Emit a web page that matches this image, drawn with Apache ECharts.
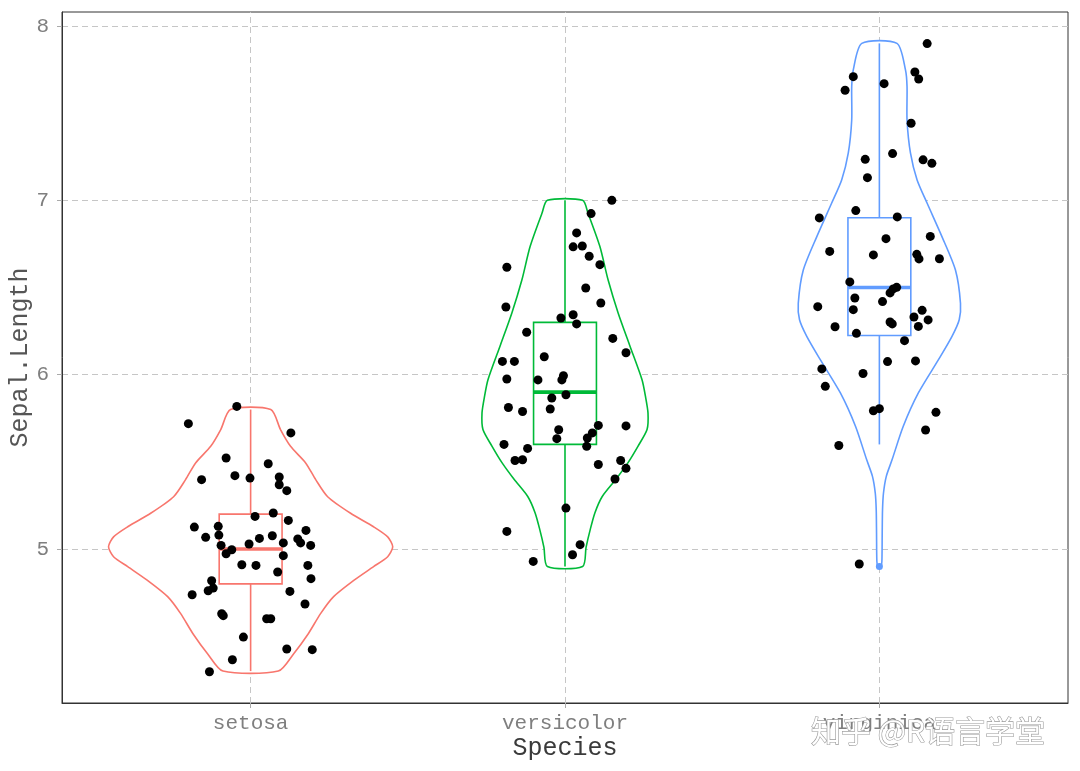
<!DOCTYPE html>
<html><head><meta charset="utf-8">
<script src="https://cdn.jsdelivr.net/npm/echarts@6/dist/echarts.min.js"></script>
<style>html,body{margin:0;padding:0;background:#fff}#c{width:1080px;height:771px}</style>
</head><body><div id="c"></div>
<script>
// ---------------- data ----------------
const categories = ['setosa', 'versicolor', 'virginica'];
const yTicks = [5, 6, 7, 8];

// boxplot statistics per species
const boxLower  = [4.3, 4.9, 5.6];
const boxQ1     = [4.8, 5.6, 6.225];
const boxMedian = [5.0, 5.9, 6.5];
const boxQ3     = [5.2, 6.3, 6.9];
const boxUpper  = [5.8, 7.0, 7.9];
const boxOutliers = [[], [], [4.9]];

// violin half-widths [value, halfWidth in category units]
const violinSetosa = [[4.3,0.088],[4.40,0.137],[4.516,0.184],[4.631,0.223],[4.727,0.264],[4.82,0.328],[4.899,0.391],[4.956,0.436],[5.013,0.452],[5.07,0.436],[5.128,0.391],[5.205,0.318],[5.30,0.245],[5.398,0.207],[5.494,0.175],[5.589,0.127],[5.685,0.095],[5.8,0.064]];
const violinVersicolor = [[4.9,0.056],[5.01,0.067],[5.11,0.080],[5.207,0.095],[5.30,0.118],[5.40,0.162],[5.494,0.200],[5.589,0.232],[5.685,0.261],[5.78,0.264],[5.875,0.256],[5.971,0.245],[6.162,0.207],[6.354,0.169],[6.544,0.137],[6.735,0.111],[6.927,0.073],[7.0,0.056]];
const violinVirginica = [[4.9,0.005],[4.93,0.008],[5.09,0.009],[5.224,0.010],[5.32,0.013],[5.417,0.022],[5.51,0.040],[5.704,0.076],[5.895,0.124],[6.086,0.188],[6.22,0.231],[6.315,0.254],[6.41,0.258],[6.60,0.242],[6.792,0.199],[6.983,0.152],[7.117,0.120],[7.27,0.099],[7.461,0.088],[7.652,0.088],[7.748,0.083],[7.9,0.056]];

// jittered points [offset from category, Sepal.Length]
const pointsSetosa = [[-0.044,5.818],[-0.198,5.719],[0.128,5.666],[-0.078,5.522],[0.056,5.489],[-0.156,5.398],[-0.050,5.421],[-0.002,5.407],[0.091,5.413],[0.091,5.369],[0.115,5.335],[0.014,5.187],[0.072,5.207],[0.120,5.164],[-0.179,5.126],[-0.103,5.130],[0.176,5.107],[-0.143,5.067],[-0.101,5.080],[0.028,5.061],[0.069,5.076],[0.150,5.058],[0.159,5.035],[0.191,5.021],[-0.094,5.021],[-0.005,5.029],[0.104,5.035],[-0.060,4.996],[-0.078,4.973],[0.104,4.962],[-0.028,4.910],[0.017,4.906],[0.182,4.906],[0.086,4.868],[0.192,4.830],[-0.124,4.818],[-0.119,4.776],[-0.135,4.761],[-0.186,4.738],[0.125,4.757],[0.173,4.685],[-0.092,4.629],[-0.087,4.618],[0.051,4.600],[0.064,4.600],[-0.023,4.495],[0.115,4.427],[0.196,4.423],[-0.058,4.365],[-0.131,4.296]];
const pointsVersicolor = [[0.149,7.000],[0.083,6.924],[0.037,6.813],[0.026,6.733],[0.055,6.738],[0.077,6.679],[0.111,6.631],[-0.185,6.616],[0.066,6.497],[0.114,6.411],[-0.188,6.388],[0.026,6.344],[-0.013,6.325],[0.037,6.291],[-0.122,6.243],[0.152,6.208],[0.194,6.126],[-0.066,6.103],[-0.199,6.076],[-0.161,6.076],[-0.005,5.994],[-0.010,5.970],[-0.185,5.975],[-0.086,5.970],[0.003,5.885],[-0.042,5.866],[-0.180,5.812],[-0.135,5.789],[-0.047,5.803],[0.106,5.709],[0.194,5.706],[-0.020,5.684],[0.087,5.666],[-0.026,5.633],[0.071,5.637],[0.069,5.589],[-0.194,5.600],[-0.119,5.577],[-0.159,5.508],[-0.135,5.512],[0.106,5.485],[0.177,5.508],[0.194,5.463],[0.159,5.402],[0.003,5.235],[-0.185,5.101],[0.048,5.025],[0.024,4.967],[-0.101,4.929]];
const pointsVirginica = [[0.152,7.899],[0.113,7.736],[0.125,7.696],[-0.083,7.709],[-0.109,7.631],[0.015,7.669],[0.101,7.442],[0.042,7.268],[-0.045,7.235],[0.139,7.232],[0.167,7.212],[-0.038,7.130],[-0.075,6.941],[-0.191,6.899],[0.057,6.905],[0.162,6.793],[0.021,6.780],[-0.158,6.707],[-0.019,6.687],[0.119,6.690],[0.126,6.664],[0.191,6.665],[-0.094,6.532],[0.055,6.501],[0.044,6.492],[0.034,6.469],[-0.078,6.440],[0.010,6.419],[-0.196,6.390],[-0.083,6.373],[0.136,6.369],[0.110,6.331],[0.155,6.314],[-0.141,6.275],[0.034,6.302],[0.041,6.291],[0.124,6.277],[-0.073,6.237],[0.080,6.195],[0.026,6.075],[0.115,6.079],[-0.183,6.033],[-0.052,6.007],[-0.172,5.933],[-0.019,5.793],[0.000,5.805],[0.180,5.784],[0.147,5.683],[-0.129,5.594],[-0.064,4.914]];

// ---------------- chart ----------------
const colors = ['#F8766D', '#00BA38', '#619CFF'];
const violins = [violinSetosa, violinVersicolor, violinVirginica];
const pointSets = [pointsSetosa, pointsVersicolor, pointsVirginica];
const monoFont = '"Courier New", "Liberation Mono", monospace';
const boxHalf = 0.1;

const chart = echarts.init(document.getElementById('c'), null, {renderer: 'canvas'});

const scatterData = [];
pointSets.forEach((pts, i) => pts.forEach(([dx, v]) => scatterData.push([i + 1 + dx, v])));

const option = {
  animation: false,
  backgroundColor: '#ffffff',
  grid: {left: 62, right: 12, top: 12, bottom: 68, show: true, borderColor: '#333333', borderWidth: 1, containLabel: false, outerBoundsMode: 'none'},
  xAxis: {
    type: 'value', min: 0.4, max: 3.6,
    name: 'Species', nameLocation: 'middle', nameGap: 33, nameMoveOverlap: false,
    nameTextStyle: {fontFamily: monoFont, fontSize: 25, color: '#3a3a3a'},
    axisLine: {show: true, lineStyle: {color: '#333333', width: 1}},
    axisTick: {show: true, customValues: [1, 2, 3], length: 5, lineStyle: {color: '#aaaaaa'}},
    axisLabel: {customValues: [1, 2, 3], formatter: v => categories[Math.round(v) - 1] || '', fontFamily: monoFont, fontSize: 21, color: '#7f7f7f', margin: 10},
    splitLine: {show: false}
  },
  yAxis: {
    type: 'value', min: 4.117, max: 8.08,
    name: 'Sepal.Length', nameLocation: 'middle', nameGap: 29, nameMoveOverlap: false,
    nameTextStyle: {fontFamily: monoFont, fontSize: 25, color: '#555555'},
    axisLine: {show: true, lineStyle: {color: '#333333', width: 1}},
    axisTick: {show: true, customValues: yTicks, length: 5, lineStyle: {color: '#aaaaaa'}},
    axisLabel: {customValues: yTicks, fontFamily: monoFont, fontSize: 21, color: '#7f7f7f', margin: 13},
    splitLine: {show: false}
  },
  series: [
    {
      type: 'line', data: [], z: 0, silent: true,
      markLine: {
        z: 0, silent: true, symbol: ['none', 'none'], label: {show: false}, animation: false,
        lineStyle: {color: '#c6c6c6', type: [6, 4], width: 1},
        emphasis: {disabled: true},
        data: categories.map((c, i) => ({xAxis: i + 1})).concat(yTicks.map(v => ({yAxis: v})))
      }
    },
    {
      type: 'custom', z: 1, silent: true,
      data: categories.map((c, i) => [i + 1, boxMedian[i]]),
      encode: {x: 0, y: 1},
      renderItem: (params, api) => {
        const i = params.dataIndex;
        const prof = violins[i];
        const cx = i + 1;
        const right = prof.map(([v, h]) => api.coord([cx + h, v]));
        const left = prof.slice().reverse().map(([v, h]) => api.coord([cx - h, v]));
        return {type: 'polygon', shape: {points: right.concat(left), smooth: 0.25},
                style: {fill: '#ffffff', stroke: colors[i], lineWidth: 1.6}};
      }
    },
    {
      type: 'custom', z: 2, silent: true,
      data: categories.map((c, i) => [i + 1, boxMedian[i]]),
      encode: {x: 0, y: 1},
      renderItem: (params, api) => {
        const i = params.dataIndex;
        const cx = i + 1;
        const c = colors[i];
        const p = (x, y) => api.coord([x, y]);
        const tl = p(cx - boxHalf, boxQ3[i]);
        const br = p(cx + boxHalf, boxQ1[i]);
        const children = [
          {type: 'line', shape: {x1: p(cx, boxQ3[i])[0], y1: p(cx, boxQ3[i])[1], x2: p(cx, boxUpper[i])[0], y2: p(cx, boxUpper[i])[1]}, style: {stroke: c, lineWidth: 1.6}},
          {type: 'line', shape: {x1: p(cx, boxQ1[i])[0], y1: p(cx, boxQ1[i])[1], x2: p(cx, boxLower[i])[0], y2: p(cx, boxLower[i])[1]}, style: {stroke: c, lineWidth: 1.6}},
          {type: 'rect', shape: {x: tl[0], y: tl[1], width: br[0] - tl[0], height: br[1] - tl[1]}, style: {fill: 'rgba(255,255,255,0)', stroke: c, lineWidth: 1.6}},
          {type: 'line', shape: {x1: p(cx - boxHalf, boxMedian[i])[0], y1: p(cx - boxHalf, boxMedian[i])[1], x2: p(cx + boxHalf, boxMedian[i])[0], y2: p(cx + boxHalf, boxMedian[i])[1]}, style: {stroke: c, lineWidth: 3.6}}
        ];
        boxOutliers[i].forEach(v => {
          const o = p(cx, v);
          children.push({type: 'circle', shape: {cx: o[0], cy: o[1], r: 3.5}, style: {fill: c}});
        });
        return {type: 'group', children};
      }
    },
    {
      type: 'scatter', z: 3, silent: true,
      data: scatterData,
      symbol: 'circle', symbolSize: 9,
      itemStyle: {color: '#000000', opacity: 1}
    }
  ],
  graphic: [
    {
      type: 'text', x: 928, y: 731, z: 100, silent: true,
      style: {text: '知乎 @R语言学堂', font: '30px "Noto Sans CJK SC"', textAlign: 'center', textVerticalAlign: 'middle',
              fill: '#ffffff', stroke: '#9a9a9a', lineWidth: 1.2}
    }
  ]
};
chart.setOption(option);
</script>
</body></html>
